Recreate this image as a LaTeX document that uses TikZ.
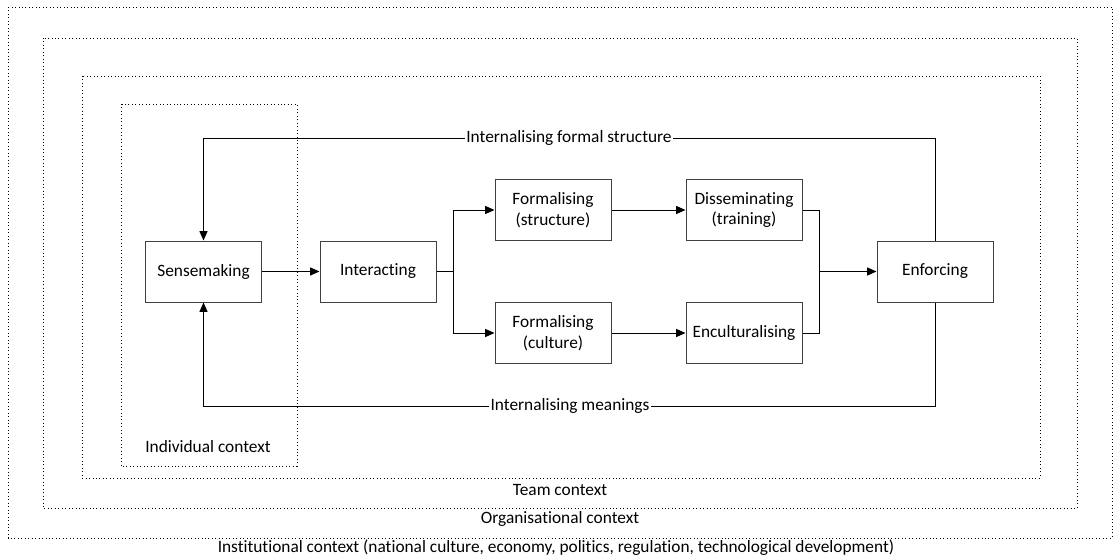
\documentclass[tikz,border=0pt]{standalone}
\usepackage{fontspec}
\setmainfont{Carlito}[RawFeature={-liga;-clig;-dlig;-calt}]
\usetikzlibrary{arrows.meta}

\tikzset{
  procbox/.style={draw=black!75, line width=0.75pt, minimum width=87pt, minimum height=45.75pt, align=center, inner sep=2pt},
  ctxframe/.style={draw, dotted, line width=0.6pt},
  flow/.style={-{Triangle[length=7pt,width=6pt]}, line width=0.75pt},
  link/.style={line width=0.75pt},
  looplabel/.style={fill=white, inner sep=1pt},
}

\begin{document}
\begin{tikzpicture}[x=0.75pt,y=-0.75pt,font=\fontsize{13}{15.5}\selectfont]
    \useasboundingbox (0,0) rectangle (1120,560);

    % Context frames
    \draw[ctxframe] (8,7) rectangle (1112,538);
    \draw[ctxframe] (43,38) rectangle (1077,508);
    \draw[ctxframe] (82,76) rectangle (1040,478);
    \draw[ctxframe] (121,104) rectangle (297,466);
    \node (institutional) at (556,548) {Institutional context (national culture, economy, politics, regulation, technological development)};
    \node (organisational) at (560,519) {Organisational context};
    \node (team) at (560,490) {Team context};
    \node (individual) at (208,447) {Individual context};

    % Process steps
    \node[procbox] (sense) at (203.5,271.5) {Sensemaking};
    \node[procbox] (inter) at (378,271.5) {Interacting};
    \node[procbox] (formstruct) at (553,210) {Formalising\\(structure)};
    \node[procbox] (dissem) at (744,210) {Disseminating\\(training)};
    \node[procbox] (formcult) at (553,333) {Formalising\\(culture)};
    \node[procbox] (encult) at (744,333) {Enculturalising};
    \node[procbox] (enforce) at (935,271.5) {Enforcing};

    % Junctions
    \coordinate (split) at (453,271.5);
    \coordinate (merge) at (819,271.5);
    \coordinate (toprail) at (0,138);
    \coordinate (botrail) at (0,406);

    % Forward flow
    \draw[flow] (sense) -- (inter);
    \draw[link] (inter) -- (split);
    \draw[flow] (split) |- (formstruct);
    \draw[flow] (split) |- (formcult);
    \draw[flow] (formstruct) -- (dissem);
    \draw[flow] (formcult) -- (encult);
    \draw[link] (dissem.east) -| (merge);
    \draw[link] (encult.east) -| (merge);
    \draw[flow] (merge) -- (enforce);

    % Feedback loops
    \draw[flow] (enforce.north) |- (sense.north |- toprail) -- (sense.north);
    \draw[flow] (enforce.south) |- (sense.south |- botrail) -- (sense.south);
    \node[looplabel] (formalloop) at (569,138) {Internalising formal structure};
    \node[looplabel] (meaningloop) at (570,406) {Internalising meanings};
\end{tikzpicture}
\end{document}
